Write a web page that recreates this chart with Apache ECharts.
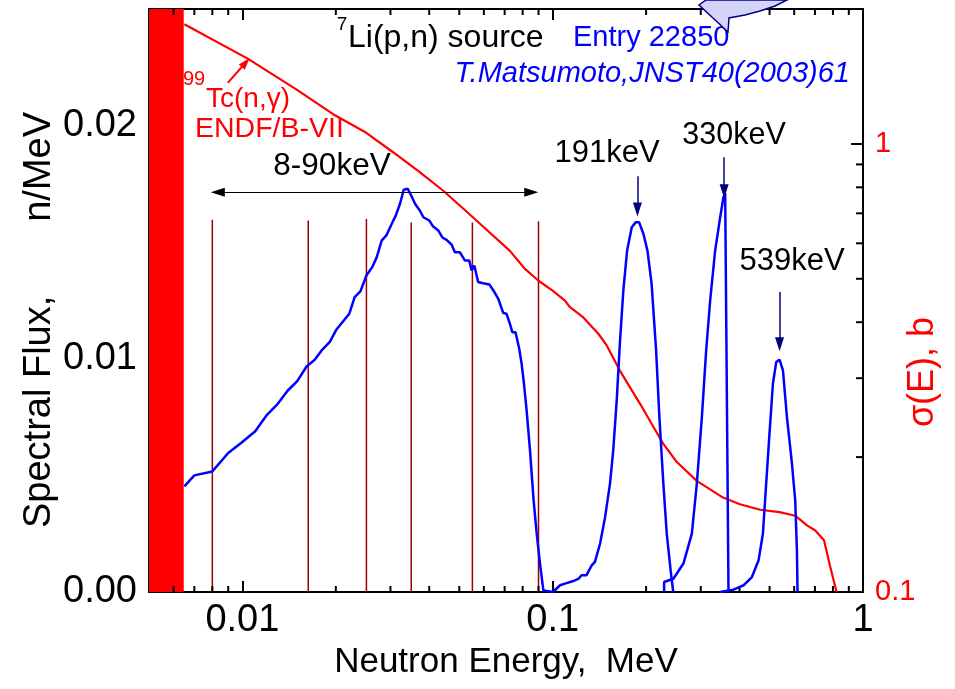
<!DOCTYPE html>
<html>
<head>
<meta charset="utf-8">
<script src="https://cdn.jsdelivr.net/npm/echarts@6/dist/echarts.min.js"></script>
<style>
html,body{margin:0;padding:0;background:#fff}
#main{width:955px;height:689px}
</style>
</head>
<body>
<div id="main"></div>
<script>
// axis ranges
var energyRange = [0.005, 1];
var fluxRange = [0, 0.025];
var sigmaRange = [0.1, 2];
var xMinorTicks = [0.006,0.007,0.008,0.009,0.02,0.03,0.04,0.05,0.06,0.07,0.08,0.09,0.2,0.3,0.4,0.5,0.6,0.7,0.8,0.9];
var sigmaMinorTicks = [0.2,0.3,0.4,0.5,0.6,0.7,0.8,0.9];

// 7Li(p,n) spectrum: continuum 8-90 keV + 191 keV peak
var fluxLow = [
	[0.0065,0.00453],[0.0070,0.0050],[0.0080,0.00517],[0.0090,0.00596],[0.0099,0.00639],[0.0110,0.00689],
	[0.0120,0.0076],[0.0130,0.00807],[0.0140,0.00864],[0.0150,0.00903],[0.0161,0.00967],[0.0171,0.00996],
	[0.0180,0.01036],[0.0191,0.01071],[0.0201,0.01126],[0.0221,0.01193],[0.0230,0.01264],[0.0240,0.01289],
	[0.0251,0.01357],[0.0262,0.01393],[0.0271,0.01436],[0.0281,0.01507],[0.0291,0.01529],[0.0303,0.01579],
	[0.0312,0.01614],[0.0322,0.01665],[0.0331,0.01725],[0.0341,0.01729],[0.0350,0.0170],[0.0360,0.01665],
	[0.0373,0.01636],[0.0383,0.01607],[0.0400,0.01593],[0.0412,0.01567],[0.0428,0.0155],[0.0442,0.01519],
	[0.0455,0.0151],[0.0472,0.0149],[0.0484,0.01457],[0.0502,0.01457],[0.0521,0.01422],[0.0538,0.01422],
	[0.0548,0.01379],[0.0559,0.0140],[0.0575,0.01329],[0.0597,0.01324],[0.0625,0.01319],[0.0644,0.01293],
	[0.0668,0.01257],[0.0693,0.01196],[0.0710,0.01193],[0.0728,0.0115],[0.0741,0.01114],[0.0759,0.01114],
	[0.0780,0.01043],[0.0794,0.00979],[0.0808,0.00893],[0.0824,0.00779],[0.0845,0.00607],[0.0868,0.00393],
	[0.0888,0.0025],[0.0910,0.00122],[0.0933,0.00007],[0.1002,0.0],[0.1056,0.00029],[0.1095,0.00036],
	[0.1166,0.00047],[0.1212,0.00057],[0.1238,0.00072],[0.1285,0.00072],[0.1336,0.00114],[0.1368,0.00129],
	[0.1421,0.00207],[0.1475,0.00321],[0.1530,0.00465],[0.1567,0.00607],[0.1608,0.00822],[0.1646,0.01065],
	[0.1689,0.01293],[0.1737,0.01464],[0.1798,0.01564],[0.1854,0.01586],[0.1898,0.01586],[0.1960,0.01536],
	[0.2020,0.01464],[0.2083,0.01322],[0.2154,0.01036],[0.2207,0.0075],[0.2273,0.00465],[0.2331,0.0025],
	[0.2399,0.00093],[0.2446,0.0]
];
var flux330 = [
	[0.2286,0],[0.2286,0.00043],[0.2449,0.00057],[0.2638,0.00122],[0.2808,0.0025],[0.2914,0.00465],
	[0.3025,0.0075],[0.3123,0.01036],[0.3217,0.0125],[0.3338,0.01464],[0.3465,0.01607],[0.3551,0.01693],
	[0.3596,0.0171],[0.3686,0]
];
var flux539 = [
	[0.3465,0],[0.3825,0.0001],[0.4124,0.00029],[0.4385,0.00064],[0.4608,0.00136],[0.4758,0.0025],
	[0.4875,0.00465],[0.4996,0.00679],[0.5125,0.00893],[0.5252,0.00986],[0.5383,0.00996],[0.5521,0.0095],
	[0.5687,0.0075],[0.5902,0.0055],[0.6047,0.00393],[0.6124,0.00179],[0.6152,0]
];
// 99Tc(n,g) ENDF/B-VII, barns
var sigmaTc = [
	[0.0065,1.85],[0.0104,1.55],[0.0150,1.32],[0.0196,1.165],[0.0250,1.06],[0.0306,0.958],[0.0370,0.868],
	[0.0444,0.786],[0.0554,0.685],[0.0728,0.577],
	[0.0814,0.526],[0.090,0.495],[0.1002,0.470],[0.1095,0.447],[0.1137,0.432],[0.1255,0.410],[0.1403,0.377],
	[0.1493,0.355],[0.1646,0.312],[0.1912,0.263],[0.2273,0.214],[0.2512,0.195],[0.2913,0.177],[0.3509,0.163],
	[0.4011,0.157],[0.4664,0.1526],[0.5382,0.1507],[0.6047,0.148],[0.6599,0.1408],[0.7018,0.1372],
	[0.7488,0.1304],[0.7844,0.1137],[0.822,0.1]
];
var binEdges = [[0.008,0.01596],[0.0163,0.01593],[0.0251,0.0160],[0.035,0.01584],[0.0551,0.01584],[0.090,0.0159]];
var redBand = [0.005, 0.00647];
var rangeArrow = [0.00833, 0.0853, 0.01714];  // from, to, flux level
var peakArrows = [[0.1875,0.01783,0.0164],[0.3569,0.01864,0.01719],[0.5383,0.01286,0.01062]];
var tcArrow = [[0.00897,1.368],[0.01025,1.519]];

var FONT = "'Liberation Sans', Arial, sans-serif";
var myChart = echarts.init(document.getElementById('main'));

function isDecade(v){
	var l = Math.log(v)/Math.LN10;
	return Math.abs(l - Math.round(l)) < 1e-6;
}

var markLines = [];
markLines.push([
	{coord:[rangeArrow[0], rangeArrow[2]], symbol:'triangle', symbolSize:[9,14]},
	{coord:[rangeArrow[1], rangeArrow[2]], symbol:'triangle', symbolSize:[9,14], lineStyle:{color:'#000', width:1}}
]);
for (var i = 0; i < peakArrows.length; i++) {
	var a = peakArrows[i];
	markLines.push([
		{coord:[a[0], a[1]], symbol:'none'},
		{coord:[a[0], a[2]], symbol:'triangle', symbolSize:[9,14], lineStyle:{color:'#000080', width:1.5}}
	]);
}

var option = {
	animation: false,
	textStyle: {fontFamily: FONT},
	grid: {left: 149, right: 92, top: 9, bottom: 97},
	xAxis: [
		{
			type: 'log', min: energyRange[0], max: energyRange[1],
			name: 'Neutron Energy,  MeV', nameLocation: 'middle', nameGap: 48,
			nameTextStyle: {fontSize: 35, color: '#000', fontFamily: FONT},
			axisLine: {lineStyle: {color: '#000', width: 2}},
			axisTick: {inside: true, length: 11, lineStyle: {color: '#000', width: 2}},
			axisLabel: {
				fontSize: 38, color: '#000', margin: 10, fontFamily: FONT,
				formatter: function (v) { return isDecade(v) ? String(+v.toPrecision(1)) : ''; }
			},
			splitLine: {show: false}
		},
		{
			type: 'log', position: 'top', min: energyRange[0], max: energyRange[1],
			axisLine: {lineStyle: {color: '#000', width: 2}},
			axisTick: {inside: true, length: 11, lineStyle: {color: '#000', width: 2}},
			axisLabel: {show: false},
			splitLine: {show: false}
		}
	],
	yAxis: [
		{
			type: 'value', min: fluxRange[0], max: fluxRange[1], interval: 0.005,
			axisLine: {show: true, lineStyle: {color: '#000', width: 2}},
			axisTick: {show: true, inside: true, length: 10, lineStyle: {color: '#000', width: 2}},
			axisLabel: {
				fontSize: 38, color: '#000', margin: 12, fontFamily: FONT,
				formatter: function (v) {
					var k = v / 0.01;
					return Math.abs(k - Math.round(k)) < 1e-6 ? v.toFixed(2) : '';
				}
			},
			splitLine: {show: false}
		},
		{
			type: 'log', min: sigmaRange[0], max: sigmaRange[1], position: 'right',
			axisLine: {show: true, lineStyle: {color: '#000', width: 2}},
			axisTick: {show: true, inside: true, length: 12, lineStyle: {color: '#000', width: 2}},
			axisLabel: {
				fontSize: 29, color: '#ff0000', margin: 12, fontFamily: FONT,
				formatter: function (v) { return isDecade(v) ? String(+v.toPrecision(1)) : ''; }
			},
			splitLine: {show: false}
		}
	],
	series: [
		{
			type: 'line', name: 'sigma', yAxisIndex: 1, data: sigmaTc,
			showSymbol: false, symbol: 'none',
			lineStyle: {color: '#ff0000', width: 2.2},
			markArea: {
				silent: true,
				itemStyle: {color: '#ff0000', opacity: 1},
				data: [[{xAxis: redBand[0]}, {xAxis: redBand[1]}]]
			},
			markLine: {
				silent: true, animation: false,
				label: {show: false},
				lineStyle: {color: '#ff0000', width: 2, type: 'solid'},
				data: [[
					{coord: tcArrow[0], symbol: 'none'},
					{coord: tcArrow[1], symbol: 'triangle', symbolSize: [8, 12]}
				]]
			}
		},
		{
			type: 'custom', name: 'bins', xAxisIndex: 0, yAxisIndex: 0, data: binEdges,
			renderItem: function (params, api) {
				var p0 = api.coord([api.value(0), 0]);
				var p1 = api.coord([api.value(0), api.value(1)]);
				return {type: 'line', shape: {x1: p0[0], y1: p0[1], x2: p1[0], y2: p1[1]},
					style: {stroke: '#990000', lineWidth: 1.5}};
			}
		},
		{
			type: 'line', name: 'flux', data: fluxLow, showSymbol: false, symbol: 'none',
			lineStyle: {color: '#0000ff', width: 2.5},
			markLine: {
				silent: true, animation: false,
				label: {show: false},
				lineStyle: {type: 'solid'},
				data: markLines
			}
		},
		{
			type: 'line', name: 'flux330', data: flux330, showSymbol: false, symbol: 'none',
			lineStyle: {color: '#0000ff', width: 2.5}
		},
		{
			type: 'line', name: 'flux539', data: flux539, showSymbol: false, symbol: 'none',
			lineStyle: {color: '#0000ff', width: 2.5}
		},
		{
			// minor log ticks on bottom and top edges
			type: 'custom', name: 'xminor', xAxisIndex: 0, yAxisIndex: 1, clip: false,
			data: xMinorTicks.map(function (v) { return [v, 1]; }),
			renderItem: function (params, api) {
				var cs = params.coordSys;
				var p = api.coord([api.value(0), api.value(1)]);
				var yb = cs.y + cs.height, yt = cs.y;
				return {type: 'group', children: [
					{type: 'line', shape: {x1: p[0], y1: yb, x2: p[0], y2: yb - 6}, style: {stroke: '#000', lineWidth: 2}},
					{type: 'line', shape: {x1: p[0], y1: yt, x2: p[0], y2: yt + 6}, style: {stroke: '#000', lineWidth: 2}}
				]};
			}
		},
		{
			type: 'custom', name: 'sminor', xAxisIndex: 0, yAxisIndex: 1,
			data: sigmaMinorTicks.map(function (v) { return [energyRange[1], v]; }),
			renderItem: function (params, api) {
				var p = api.coord([api.value(0), api.value(1)]);
				return {type: 'line', shape: {x1: p[0], y1: p[1], x2: p[0] - 7, y2: p[1]}, style: {stroke: '#000', lineWidth: 2}};
			}
		}
	],
	graphic: [
		{type: 'text', x: 40, y: 320, rotation: Math.PI / 2,
			style: {text: 'Spectral Flux,       n/MeV', fontSize: 38, fontFamily: FONT, fill: '#000', textAlign: 'center', textVerticalAlign: 'middle'}},
		{type: 'text', x: 923, y: 372, rotation: Math.PI / 2,
			style: {text: '\u03c3(E), b', fontSize: 36, fontFamily: FONT, fill: '#ff0000', textAlign: 'center', textVerticalAlign: 'middle'}},
		{type: 'text', x: 342, y: 25, style: {text: '7', fontSize: 19, fontFamily: FONT, fill: '#000', textAlign: 'center', textVerticalAlign: 'middle'}},
		{type: 'text', x: 348, y: 38, style: {text: 'Li(p,n) source', fontSize: 32, fontFamily: FONT, fill: '#000', textAlign: 'left', textVerticalAlign: 'middle'}},
		{type: 'text', x: 573, y: 38, style: {text: 'Entry 22850', fontSize: 29, fontFamily: FONT, fill: '#0000ff', textAlign: 'left', textVerticalAlign: 'middle'}},
		{type: 'text', x: 850, y: 74, style: {text: 'T.Matsumoto,JNST40(2003)61', fontSize: 29, fontStyle: 'italic', fontFamily: FONT, fill: '#0000ff', textAlign: 'right', textVerticalAlign: 'middle'}},
		{type: 'text', x: 183, y: 79, style: {text: '99', fontSize: 20, fontFamily: FONT, fill: '#ff0000', textAlign: 'left', textVerticalAlign: 'middle'}},
		{type: 'text', x: 206, y: 99, style: {text: 'Tc(n,\u03b3)', fontSize: 28, fontFamily: FONT, fill: '#ff0000', textAlign: 'left', textVerticalAlign: 'middle'}},
		{type: 'text', x: 195, y: 129, style: {text: 'ENDF/B-VII', fontSize: 28.5, fontFamily: FONT, fill: '#ff0000', textAlign: 'left', textVerticalAlign: 'middle'}},
		{type: 'text', x: 332, y: 166, style: {text: '8-90keV', fontSize: 31.5, fontFamily: FONT, fill: '#000', textAlign: 'center', textVerticalAlign: 'middle'}},
		{type: 'text', x: 607, y: 153, style: {text: '191keV', fontSize: 31, fontFamily: FONT, fill: '#000', textAlign: 'center', textVerticalAlign: 'middle'}},
		{type: 'text', x: 734, y: 136, style: {text: '330keV', fontSize: 30.5, fontFamily: FONT, fill: '#000', textAlign: 'center', textVerticalAlign: 'middle'}},
		{type: 'text', x: 792, y: 261, style: {text: '539keV', fontSize: 31, fontFamily: FONT, fill: '#000', textAlign: 'center', textVerticalAlign: 'middle'}},
		{type: 'polygon', z: 100,
			shape: {points: [[706,0],[699,5],[728,32],[729,18],[745,15],[760,11],[775,6],[787,0]]},
			style: {fill: '#d4d4f8', stroke: '#000080', lineWidth: 1.5}}
	]
};
myChart.setOption(option);
</script>
</body>
</html>
